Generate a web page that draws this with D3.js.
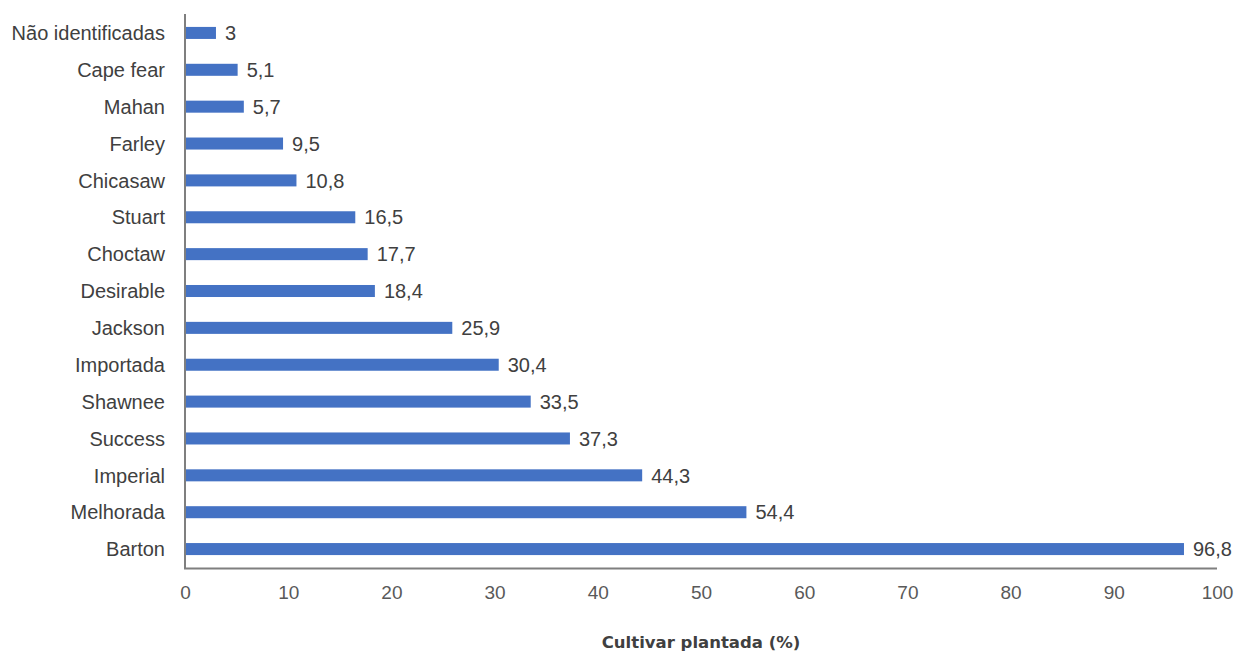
<!DOCTYPE html>
<html>
<head>
<meta charset="utf-8">
<script src="https://cdn.jsdelivr.net/npm/d3@7"></script>
<style>
  html, body { margin: 0; padding: 0; background: #ffffff; }
  svg { display: block; }
</style>
</head>
<body>
<svg id="chart" width="1236" height="651"></svg>
<script>
// Cultivars, top to bottom, and share of orchards where each is planted (%)
const categories = ["Não identificadas", "Cape fear", "Mahan", "Farley", "Chicasaw", "Stuart",
  "Choctaw", "Desirable", "Jackson", "Importada", "Shawnee", "Success", "Imperial", "Melhorada", "Barton"];
const values = [3, 5.1, 5.7, 9.5, 10.8, 16.5, 17.7, 18.4, 25.9, 30.4, 33.5, 37.3, 44.3, 54.4, 96.8];
const xTicks = [0, 10, 20, 30, 40, 50, 60, 70, 80, 90, 100];
const axisTitle = "Cultivar plantada (%)";

const svg = d3.select("#chart");
const plotLeft = 185, plotRight = 1217, plotTop = 14.5, plotBottom = 567.5;

const x = d3.scaleLinear().domain([0, 100]).range([plotLeft, plotRight]);
const y = d3.scaleBand().domain(categories).range([plotTop, plotBottom])
  .paddingInner(0.674).paddingOuter(0.337);

const fmt = v => String(v).replace(".", ",");
const font = "'Liberation Sans', Arial, sans-serif";

// bars
svg.append("g").selectAll("rect").data(categories).join("rect")
  .attr("x", x(0))
  .attr("y", d => y(d))
  .attr("width", (d, i) => x(values[i]) - x(0))
  .attr("height", y.bandwidth())
  .attr("fill", "#4472C4");

// value labels
svg.append("g").selectAll("text").data(categories).join("text")
  .attr("x", (d, i) => x(values[i]) + 9)
  .attr("y", d => y(d) + y.bandwidth() / 2)
  .attr("dy", "0.36em")
  .attr("font-family", font)
  .attr("font-size", 20)
  .attr("fill", "#404040")
  .text((d, i) => fmt(values[i]));

// category labels
svg.append("g").selectAll("text").data(categories).join("text")
  .attr("x", 165)
  .attr("y", d => y(d) + y.bandwidth() / 2)
  .attr("dy", "0.36em")
  .attr("text-anchor", "end")
  .attr("font-family", font)
  .attr("font-size", 20)
  .attr("fill", "#404040")
  .text(d => d);

// axis lines
svg.append("line")
  .attr("x1", x(0)).attr("x2", x(0))
  .attr("y1", plotTop - 0.5).attr("y2", plotBottom + 1)
  .attr("stroke", "#7f7f7f").attr("stroke-width", 2);
svg.append("line")
  .attr("x1", x(0) - 1).attr("x2", x(100))
  .attr("y1", plotBottom + 1).attr("y2", plotBottom + 1)
  .attr("stroke", "#7f7f7f").attr("stroke-width", 2);

// x tick labels
const xAxis = d3.axisBottom(x).tickValues(xTicks).tickSize(0).tickPadding(0);
const gx = svg.append("g").attr("transform", `translate(0,${plotBottom + 17.5})`).call(xAxis);
gx.select(".domain").remove();
gx.selectAll("text")
  .attr("font-family", font)
  .attr("font-size", 19)
  .attr("fill", "#595959");

// axis title
svg.append("text")
  .attr("x", 701)
  .attr("y", 647.5)
  .attr("text-anchor", "middle")
  .attr("font-family", "'DejaVu Sans', Verdana, sans-serif")
  .attr("font-weight", "bold")
  .attr("font-size", 16.5)
  .attr("fill", "#404040")
  .text(axisTitle);
</script>
</body>
</html>
